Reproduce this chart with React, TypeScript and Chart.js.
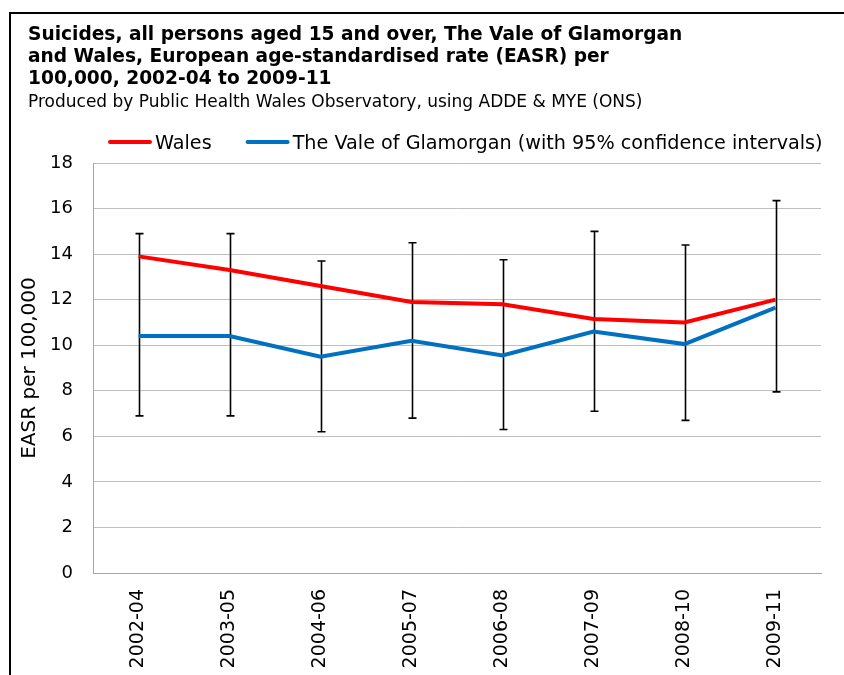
import React, { useEffect, useRef } from 'react';
import { Chart, registerables } from 'chart.js';

Chart.register(...registerables);

const categories = ['2002-04', '2003-05', '2004-06', '2005-07', '2006-08', '2007-09', '2008-10', '2009-11'];
const walesRate = [13.9, 13.3, 12.6, 11.9, 11.8, 11.15, 11.0, 12.0];
const valeRate = [10.4, 10.4, 9.5, 10.2, 9.55, 10.6, 10.05, 11.65];
const valeLower = [6.9, 6.9, 6.2, 6.8, 6.3, 7.1, 6.7, 7.95];
const valeUpper = [14.9, 14.9, 13.7, 14.5, 13.75, 15.0, 14.4, 16.35];

const titleLines = [
  'Suicides, all persons aged 15 and over, The Vale of Glamorgan',
  'and Wales, European age-standardised rate (EASR) per',
  '100,000, 2002-04 to 2009-11',
];
const subtitleText = 'Produced by Public Health Wales Observatory, using ADDE & MYE (ONS)';
const yAxisTitle = 'EASR per 100,000';
const seriesNames = ['Wales', 'The Vale of Glamorgan (with 95% confidence intervals)'];

const FONT = '"DejaVu Sans", Verdana, sans-serif';

const errorBarPlugin = {
  id: 'errorBars',
  beforeDatasetsDraw(chart: any) {
    const ctx = chart.ctx;
    const xs = chart.scales.x;
    const ys = chart.scales.y;
    ctx.save();
    ctx.strokeStyle = '#000';
    ctx.lineWidth = 1.6;
    categories.forEach((_, i) => {
      const px = Math.round(xs.getPixelForValue(i)) + 0.5;
      const top = ys.getPixelForValue(valeUpper[i]);
      const bot = ys.getPixelForValue(valeLower[i]);
      ctx.beginPath();
      ctx.moveTo(px, top);
      ctx.lineTo(px, bot);
      ctx.moveTo(px - 4, top);
      ctx.lineTo(px + 4, top);
      ctx.moveTo(px - 4, bot);
      ctx.lineTo(px + 4, bot);
      ctx.stroke();
    });
    ctx.restore();
  },
};

const decorPlugin = {
  id: 'decor',
  afterDraw(chart: any) {
    const ctx = chart.ctx;
    ctx.save();
    // outer frame (top and left visible)
    ctx.fillStyle = '#000';
    ctx.fillRect(9, 12, 844, 2);
    ctx.fillRect(9, 12, 2, 700);
    // title
    ctx.fillStyle = '#000';
    ctx.textAlign = 'left';
    ctx.textBaseline = 'alphabetic';
    ctx.font = `bold 18.6px ${FONT}`;
    const baselines = [40, 62, 84];
    titleLines.forEach((t, i) => ctx.fillText(t, 28, baselines[i]));
    ctx.font = `17px ${FONT}`;
    ctx.fillText(subtitleText, 28, 107);
    // legend
    ctx.font = `19.2px ${FONT}`;
    let x = 108;
    chart.data.datasets.forEach((ds: any) => {
      ctx.strokeStyle = ds.borderColor;
      ctx.lineWidth = 4;
      ctx.lineCap = 'round';
      ctx.beginPath();
      ctx.moveTo(x + 2, 142);
      ctx.lineTo(x + 42, 142);
      ctx.stroke();
      ctx.fillStyle = '#000';
      ctx.fillText(ds.label, x + 47, 149);
      x += 47 + ctx.measureText(ds.label).width + 34;
    });
    ctx.restore();
  },
};

export default function App() {
  const canvasRef = useRef<HTMLCanvasElement>(null);

  useEffect(() => {
    if (!canvasRef.current) return;
    const chart = new Chart(canvasRef.current, {
      type: 'line',
      data: {
        labels: categories,
        datasets: [
          {
            label: seriesNames[0],
            data: walesRate,
            borderColor: '#FF0000',
            backgroundColor: '#FF0000',
            borderWidth: 4,
            pointRadius: 0,
            tension: 0,
          },
          {
            label: seriesNames[1],
            data: valeRate,
            borderColor: '#0070C0',
            backgroundColor: '#0070C0',
            borderWidth: 4,
            pointRadius: 0,
            tension: 0,
          },
        ],
      },
      options: {
        animation: false,
        responsive: true,
        maintainAspectRatio: false,
        layout: { padding: { top: 163, left: 12, right: 23, bottom: 0 } },
        plugins: {
          legend: { display: false },
          title: { display: false },
          tooltip: { enabled: false },
        },
        scales: {
          x: {
            offset: true,
            grid: { display: false, drawTicks: false },
            border: { display: true, color: '#a6a6a6', width: 1 },
            ticks: {
              color: '#000',
              font: { family: FONT, size: 19 },
              minRotation: 90,
              maxRotation: 90,
              padding: 16,
              autoSkip: false,
            },
            afterFit: (s: any) => {
              s.height = 102;
            },
          },
          y: {
            min: 0,
            max: 18,
            ticks: {
              stepSize: 2,
              color: '#000',
              font: { family: FONT, size: 18 },
              padding: 20,
            },
            grid: { color: '#bfbfbf', lineWidth: 1, drawTicks: false },
            border: { display: true, color: '#a6a6a6', width: 1 },
            title: {
              display: true,
              text: yAxisTitle,
              color: '#000',
              font: { family: FONT, size: 20 },
              padding: { top: 6, bottom: 0 },
            },
            afterFit: (s: any) => {
              s.width = 81;
            },
          },
        },
      },
      plugins: [errorBarPlugin, decorPlugin],
    });
    return () => chart.destroy();
  }, []);

  return (
    <div style={{ position: 'fixed', left: 0, top: 0, width: 844, height: 675, background: '#fff' }}>
      <canvas ref={canvasRef} />
    </div>
  );
}
